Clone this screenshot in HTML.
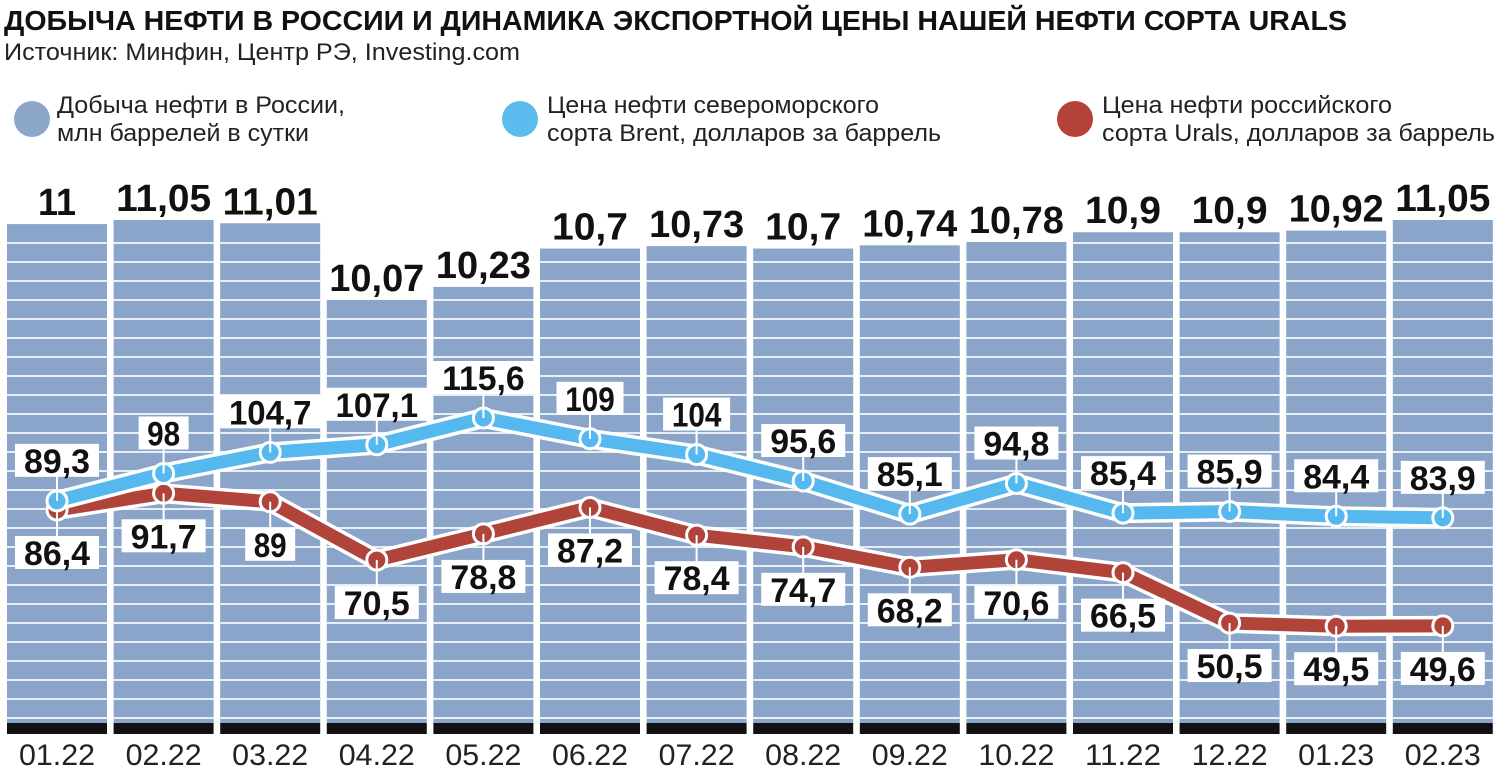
<!DOCTYPE html>
<html><head><meta charset="utf-8"><style>
html,body{margin:0;padding:0;background:#fff}
svg{display:block}
text{font-family:"Liberation Sans Narrow","Liberation Sans",sans-serif}
</style></head><body>
<svg id="c" width="1500" height="769" viewBox="0 0 1500 769" xmlns="http://www.w3.org/2000/svg">
<text x="4" y="30" font-size="28" font-weight="bold" fill="#111" textLength="1343" lengthAdjust="spacingAndGlyphs" style="font-family:'Liberation Sans',sans-serif">ДОБЫЧА НЕФТИ В РОССИИ И ДИНАМИКА ЭКСПОРТНОЙ ЦЕНЫ НАШЕЙ НЕФТИ СОРТА URALS</text>
<text x="4" y="60" font-size="24" fill="#222" textLength="516" lengthAdjust="spacingAndGlyphs" style="font-family:'Liberation Sans',sans-serif">Источник: Минфин, Центр РЭ, Investing.com</text>
<g font-size="24" fill="#222" style="font-family:'Liberation Sans',sans-serif">
<g><circle cx="32" cy="119" r="18" fill="#8ca6ca"/><text x="57" y="113" textLength="288" lengthAdjust="spacingAndGlyphs">Добыча нефти в России,</text><text x="57" y="141" textLength="252" lengthAdjust="spacingAndGlyphs">млн баррелей в сутки</text></g>
<g><circle cx="520" cy="119" r="18" fill="#5bbcf0"/><text x="547" y="113" textLength="332" lengthAdjust="spacingAndGlyphs">Цена нефти североморского</text><text x="547" y="141" textLength="394" lengthAdjust="spacingAndGlyphs">сорта Brent, долларов за баррель</text></g>
<g><circle cx="1075" cy="119" r="18" fill="#b5413b"/><text x="1102" y="113" textLength="290" lengthAdjust="spacingAndGlyphs">Цена нефти российского</text><text x="1102" y="141" textLength="393" lengthAdjust="spacingAndGlyphs">сорта Urals, долларов за баррель</text></g>
</g>
<g id="bars"></g><g id="lines"></g><g id="labels"></g><g id="xaxis"></g>
</svg>
<script>
const categories=["01.22","02.22","03.22","04.22","05.22","06.22","07.22","08.22","09.22","10.22","11.22","12.22","01.23","02.23"];
const production=[11,11.05,11.01,10.07,10.23,10.7,10.73,10.7,10.74,10.78,10.9,10.9,10.92,11.05];
const productionLabels=["11","11,05","11,01","10,07","10,23","10,7","10,73","10,7","10,74","10,78","10,9","10,9","10,92","11,05"];
const brent=[89.3,98,104.7,107.1,115.6,109,104,95.6,85.1,94.8,85.4,85.9,84.4,83.9];
const urals=[86.4,91.7,89,70.5,78.8,87.2,78.4,74.7,68.2,70.6,66.5,50.5,49.5,49.6];
const NS="http://www.w3.org/2000/svg";
function mk(t,a,p){const e=document.createElementNS(NS,t);for(const k in a)e.setAttribute(k,a[k]);p.appendChild(e);return e;}
const xLeft=i=>7+i*106.6, barW=100, xC=i=>xLeft(i)+barW/2;
const yBar=v=>220+(11.05-v)*81.6;
const yPrice=v=>418+(115.6-v)*3.15;
const fmt=v=>String(v).replace('.',',');
const bars=document.getElementById('bars'),lines=document.getElementById('lines'),labels=document.getElementById('labels'),xaxis=document.getElementById('xaxis');
const bottom=723;
production.forEach((v,i)=>{
 const y=yBar(v);
 const r=mk('rect',{x:xLeft(i),y:y,width:barW,height:bottom-y,fill:'#8aa5c9'},bars);
 
 
 for(let s=243;s<bottom;s+=19){ if(s>y+2){const l=mk('rect',{x:xLeft(i),y:s-1,width:barW,height:2,fill:'#e8eef6'},bars);
 
 }}
 const k=mk('rect',{x:xLeft(i),y:bottom,width:barW,height:11,fill:'#111'},bars);
 
 
 const t=mk('text',{x:xC(i),y:y-9,'text-anchor':'middle','font-size':'38','font-weight':'bold',fill:'#111',textLength:productionLabels[i].length*19,lengthAdjust:'spacingAndGlyphs'},labels);
 t.textContent=productionLabels[i];
 
 
 const xl=mk('text',{x:xC(i),y:765,'text-anchor':'middle','font-size':'30',fill:'#222',textLength:76,lengthAdjust:'spacingAndGlyphs'},xaxis);
 xl.textContent=categories[i];
 
 
});
function series(vals,color,name,above){
 const pts=vals.map((v,i)=>xC(i)+','+yPrice(v)).join(' ');
 const o=mk('polyline',{points:pts,fill:'none',stroke:'#fff','stroke-width':20,'stroke-linejoin':'round','stroke-linecap':'round'},lines);
 
 
 const p=mk('polyline',{points:pts,fill:'none',stroke:color,'stroke-width':13,'stroke-linejoin':'round','stroke-linecap':'round'},lines);
 
 
 vals.forEach((v,i)=>{
  const x=xC(i),y=yPrice(v);
  const by=above?y-57:y+26;
  const tk=mk('line',{x1:x,x2:x,y1:above?by+33:y,y2:above?y:by,stroke:'#fff','stroke-width':2},labels);
  
  
  const s=fmt(v);const w=s.length*17+16;
  const b=mk('rect',{x:x-w/2,y:by,width:w,height:33,fill:'#fff'},labels);
  
  
  const t=mk('text',{x:x,y:by+29,'text-anchor':'middle','font-size':'34','font-weight':'bold',fill:'#111',textLength:s.length*16.5,lengthAdjust:'spacingAndGlyphs'},labels);
  t.textContent=s;
  
  
  const c=mk('circle',{cx:x,cy:y,r:10,fill:color,stroke:'#fff','stroke-width':3},lines);
  
  
 });
}
series(urals,'#b0443a','urals',false);
series(brent,'#55b9ef','brent',true);
</script>
</body></html>
